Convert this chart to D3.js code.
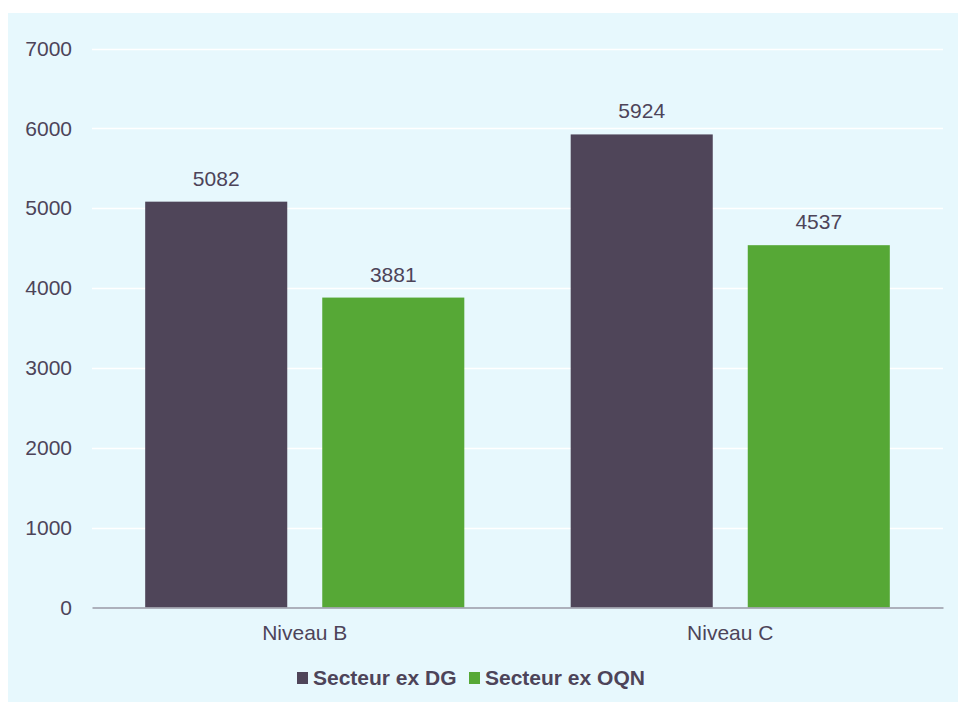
<!DOCTYPE html>
<html><head><meta charset="utf-8">
<script src="https://cdn.jsdelivr.net/npm/d3@7/dist/d3.min.js"></script>
<style>body{margin:0;background:#fff;}svg{display:block;font-family:"Liberation Sans",Arial,sans-serif;}</style>
</head><body>
<svg id="c" width="958" height="702"></svg>
<script>
const categories = ["Niveau B", "Niveau C"];
const series = ["Secteur ex DG", "Secteur ex OQN"];
const dgValues = [5082, 5924];
const oqnValues = [3881, 4537];
const yTicks = [0, 1000, 2000, 3000, 4000, 5000, 6000, 7000];
const colors = ["#4f4559", "#56a836"];

(function () {
const svg = d3.select("#c");
const textColor = "#4d4459";
const fs = 21;
svg.append("rect").attr("x", 8).attr("y", 13).attr("width", 950).attr("height", 689).attr("fill", "#e7f8fd");

const plotLeft = 92, plotRight = 943, plotTop = 48.5, plotBottom = 607.5;
const y = d3.scaleLinear().domain([0, 7000]).range([plotBottom, plotTop]);
const x0 = d3.scaleBand().domain(categories).range([plotLeft, plotRight]).padding(0);
const bw = x0.bandwidth();
const groupW = bw * 0.75;
const x1 = d3.scaleBand().domain(series).range([(bw - groupW) / 2, (bw + groupW) / 2]).paddingInner(0.1977).paddingOuter(0);

svg.append("g").selectAll("line").data(yTicks.filter(d => d > 0)).join("line")
  .attr("x1", plotLeft).attr("x2", plotRight)
  .attr("y1", d => Math.round(y(d)) + 0.5).attr("y2", d => Math.round(y(d)) + 0.5)
  .attr("stroke", "#ffffff").attr("stroke-width", 1.5);

const yAxis = d3.axisLeft(y).tickValues(yTicks).tickSize(0).tickPadding(20).tickFormat(d3.format("d"));
const ga = svg.append("g").attr("transform", `translate(${plotLeft},0)`).call(yAxis);
ga.select(".domain").remove();
ga.selectAll("text").attr("font-size", fs).attr("fill", textColor).attr("font-family", "Liberation Sans, Arial, sans-serif");

const data = categories.map((c, i) => ({cat: c, vals: [dgValues[i], oqnValues[i]]}));
const groups = svg.append("g").selectAll("g").data(data).join("g")
  .attr("transform", d => `translate(${x0(d.cat)},0)`);
groups.selectAll("rect").data(d => d.vals.map((v, j) => ({s: series[j], v, j}))).join("rect")
  .attr("x", d => x1(d.s)).attr("width", x1.bandwidth())
  .attr("y", d => y(d.v)).attr("height", d => y(0) - y(d.v))
  .attr("fill", d => colors[d.j]);
groups.selectAll("text").data(d => d.vals.map((v, j) => ({s: series[j], v, j}))).join("text")
  .attr("x", d => x1(d.s) + x1.bandwidth() / 2).attr("y", d => y(d.v) - 16)
  .attr("text-anchor", "middle").attr("font-size", fs).attr("fill", textColor)
  .text(d => d.v);

const xAxis = d3.axisBottom(x0).tickSize(0).tickPadding(18);
const gx = svg.append("g").attr("transform", `translate(0,${plotBottom})`).call(xAxis);
gx.select(".domain").attr("stroke", "#9a9aa6").attr("stroke-width", 1.5);
gx.selectAll("text").attr("font-size", fs).attr("fill", textColor).attr("font-family", "Liberation Sans, Arial, sans-serif");

const legend = svg.append("g").attr("transform", "translate(0,685)");
const lx = [297, 469];
series.forEach((s, i) => {
  legend.append("rect").attr("x", lx[i]).attr("y", -13).attr("width", 11).attr("height", 12).attr("fill", colors[i]);
  legend.append("text").attr("x", lx[i] + 16).attr("y", 0).attr("font-size", fs).attr("font-weight", "bold")
    .attr("fill", textColor).text(s);
});
})();
</script>
</body></html>
